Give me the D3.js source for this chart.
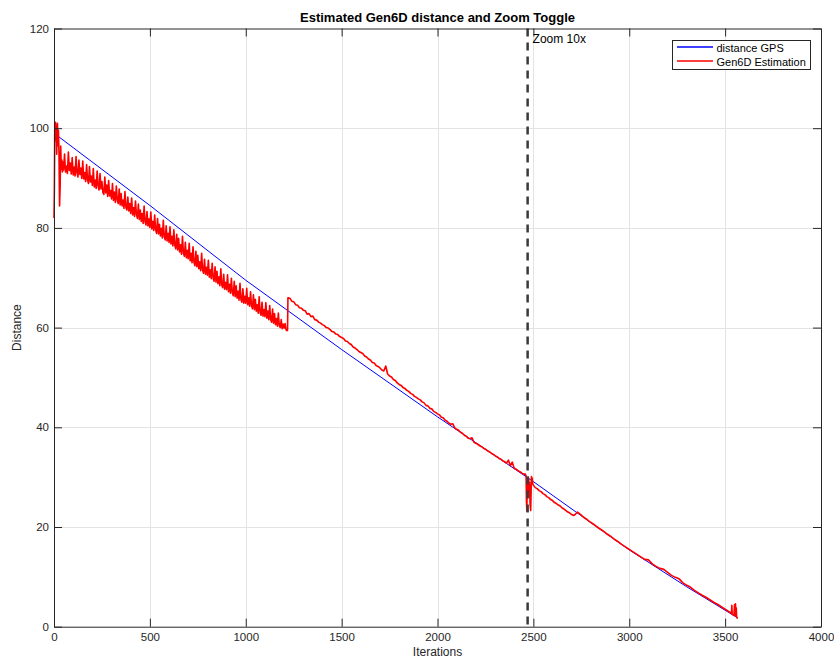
<!DOCTYPE html>
<html>
<head>
<meta charset="utf-8">
<script src="https://cdn.jsdelivr.net/npm/d3@7"></script>
<style>
  html, body { margin: 0; padding: 0; background: #fff; }
  svg { display: block; font-family: "Liberation Sans", Arial, Helvetica, sans-serif; }
</style>
</head>
<body>
<svg id="chart" width="834" height="659"></svg>
<script>
// ---------------- DATA ----------------
const titleText = "Estimated Gen6D distance and Zoom Toggle";
const xLabelText = "Iterations";
const yLabelText = "Distance";
const seriesNames = ["distance GPS", "Gen6D Estimation"];
const xTicks = [0, 500, 1000, 1500, 2000, 2500, 3000, 3500, 4000];
const yTicks = [0, 20, 40, 60, 80, 100, 120];
const zoomIteration = 2470;
const zoomLabel = "Zoom 10x";

// GPS distance [iteration, distance]
const gpsDistance = [[0, 99.0], [500, 84.5], [1000, 69.5], [1500, 55.6], [2000, 42.1],
  [2500, 29.1], [3000, 15.4], [3300, 8.0], [3564, 1.8]];

// Gen6D estimation, start (explicit [iteration, value])
const redStart = [[0, 82.0], [2, 88.0], [4, 100.5], [6, 97.5], [8, 101.2], [10, 98.6], [12, 100.6],
  [14, 94.8], [16, 99.9], [18, 101.0], [20, 96.5], [23, 99.6], [26, 95.2], [29, 84.4], [32, 88.2],
  [35, 96.4], [38, 91.8], [41, 93.6], [44, 91.2], [47, 93.2]];
// Gen6D noisy section: iterations 50..1215 every 5
const redNoisyStart = 50, redNoisyStep = 5;
const redNoisy = [
  91.6, 94.8, 91.2, 92.4, 90.9, 95.2, 91.5, 93.0, 90.8, 94.1,
  90.6, 92.2, 90.4, 94.3, 91.0, 90.2, 93.6, 90.7, 92.0, 89.9,
  93.4, 89.8, 91.1, 89.3, 92.7, 89.6, 88.9, 92.3, 89.2, 90.4,
  88.5, 91.9, 88.2, 89.6, 87.9, 91.4, 88.4, 87.6, 90.9, 87.8,
  89.3, 87.1, 86.7, 90.2, 87.0, 88.6, 86.3, 89.5, 86.4, 87.5,
  85.8, 88.9, 85.5, 87.2, 85.1, 88.4, 85.6, 84.9, 87.8, 84.6,
  86.9, 84.4, 85.6, 83.9, 87.3, 84.1, 83.6, 86.2, 83.4, 84.9,
  82.9, 86.0, 82.6, 84.1, 82.3, 85.4, 82.7, 81.9, 84.8, 81.7,
  83.6, 81.3, 82.9, 80.9, 84.4, 81.2, 80.6, 83.3, 80.4, 81.8,
  80.1, 83.2, 79.8, 81.3, 79.5, 82.6, 79.6, 78.9, 81.9, 78.8,
  80.7, 78.4, 79.9, 78.0, 81.5, 78.2, 77.6, 80.4, 77.4, 78.9,
  77.1, 80.2, 76.8, 78.3, 76.4, 79.6, 76.5, 75.8, 78.7, 75.6,
  77.9, 75.2, 76.6, 74.7, 78.3, 74.9, 74.3, 77.1, 74.0, 75.5,
  73.8, 76.9, 73.4, 74.9, 73.0, 76.2, 73.1, 72.4, 75.3, 72.2,
  74.5, 71.8, 73.2, 71.4, 74.9, 71.5, 70.9, 73.7, 70.7, 72.1,
  70.5, 73.5, 70.1, 71.6, 69.8, 72.9, 69.9, 69.3, 72.2, 69.1,
  71.3, 68.8, 70.2, 68.4, 71.8, 68.5, 68.0, 70.7, 67.7, 69.1,
  67.6, 70.6, 67.2, 68.7, 66.9, 69.9, 67.0, 66.4, 69.3, 66.2,
  68.4, 65.9, 67.3, 65.5, 68.9, 65.6, 65.1, 67.8, 64.9, 66.3,
  64.9, 67.9, 64.6, 66.0, 64.3, 67.2, 64.4, 63.8, 66.6, 63.6,
  65.7, 63.3, 64.6, 62.9, 66.2, 63.0, 62.5, 65.1, 62.3, 63.6,
  62.2, 65.0, 61.9, 63.3, 61.6, 64.4, 61.6, 61.1, 63.7, 60.9,
  62.8, 60.6, 61.8, 60.3, 62.9, 60.4, 60.0, 61.6, 59.8, 60.7,
  59.9, 60.8, 59.6, 59.4];
const redJump = [[1218, 59.5]];
// Gen6D after the jump: iterations 1220..2450 every 10
const redSmoothStart = 1220, redSmoothStep = 10;
const redSmooth = [
  66.0, 65.9, 65.3, 65.2, 64.6, 64.5, 64.0, 63.9,
  63.5, 63.4, 62.7, 62.8, 62.2, 62.3, 61.6, 61.5, 61.1, 60.9,
  60.6, 60.4, 60.0, 59.9, 59.6, 59.2, 59.1, 58.7, 58.6, 58.2,
  58.0, 57.8, 57.3, 57.2, 56.8, 56.6, 56.1, 55.9, 55.6, 55.2,
  55.0, 54.8, 54.3, 54.1, 53.7, 53.5, 53.0, 52.9, 52.4, 52.2,
  51.9, 51.5, 51.3, 52.3, 50.7, 50.3, 50.1, 49.6, 49.4, 48.9,
  48.6, 48.4, 48.0, 47.8, 47.4, 47.2, 46.8, 46.6, 46.2, 46.0,
  45.7, 45.5, 45.1, 44.9, 44.4, 44.3, 43.8, 43.7, 43.2, 43.0,
  42.7, 42.5, 42.0, 41.9, 41.4, 41.2, 40.8, 40.6, 40.7, 39.9,
  39.6, 39.4, 39.0, 38.8, 38.4, 38.2, 37.8, 37.7, 37.9, 37.0,
  36.8, 36.6, 36.3, 36.1, 35.8, 35.6, 35.3, 35.1, 34.8, 34.6,
  34.3, 34.1, 33.8, 33.6, 33.3, 33.1, 32.8, 33.4, 32.3, 33.0,
  31.8, 31.6, 31.3, 31.1, 30.8, 30.6];
// Gen6D around the zoom toggle (explicit [iteration, value])
const redZoom = [[2458, 30.6], [2462, 30.2], [2464, 25.0], [2466, 23.2], [2468, 28.5], [2470, 27.0],
  [2473, 30.0], [2476, 29.4], [2478, 26.0], [2480, 29.0], [2483, 24.5], [2486, 23.3], [2488, 26.8],
  [2490, 30.1], [2492, 29.0], [2494, 29.8], [2497, 28.6]];
// Gen6D after zoom: iterations 2500..2760 every 10
const redAfterStart = 2500, redAfterStep = 10;
const redAfter = [28.4, 27.9, 27.7, 27.3, 27.1, 26.7, 26.5, 26.1, 25.9, 25.5,
  25.3, 24.9, 24.7, 24.4, 24.2, 23.8, 23.6, 23.3, 23.0, 22.8,
  22.5, 22.3, 22.6, 23.0, 22.7, 22.4, 22.0];
// Gen6D tail: iterations 2780..3520 every 20
const redTailStart = 2780, redTailStep = 20;
const redTail = [21.5, 20.9, 20.4, 19.8, 19.3, 18.7, 18.2, 17.6, 17.1, 16.5, 16.0,
  15.5, 15.0, 14.5, 14.0, 13.5, 13.4, 12.6, 12.1, 11.7, 11.5, 10.9, 10.3, 9.9, 9.6,
  8.8, 8.3, 7.9, 7.3, 6.8, 6.3, 5.9, 5.4, 4.9, 4.5, 4.0, 3.5, 3.0];
// Gen6D end (explicit [iteration, value])
const redEnd = [[3530, 2.8], [3533, 2.6], [3535, 4.3], [3537, 2.5], [3540, 2.4], [3543, 2.4],
  [3546, 2.3], [3549, 4.4], [3551, 2.2], [3554, 4.6], [3556, 2.1], [3558, 3.8], [3560, 2.0],
  [3562, 1.8], [3565, 1.6]];

// ---------------- BUILD ----------------
const seq = (start, step, vals) => vals.map((v, i) => [start + i * step, v]);
const gen6d = [].concat(redStart, seq(redNoisyStart, redNoisyStep, redNoisy), redJump,
  seq(redSmoothStart, redSmoothStep, redSmooth), redZoom,
  seq(redAfterStart, redAfterStep, redAfter), seq(redTailStart, redTailStep, redTail), redEnd);

const svg = d3.select("#chart");
const L = 54, R = 821, T = 28.5, B = 626.7;
const x = d3.scaleLinear().domain([0, 4000]).range([L, R]);
const y = d3.scaleLinear().domain([0, 120]).range([B, T]);
const axisColor = "#262626";

// grid
const g = svg.append("g");
g.selectAll(".vg").data(xTicks.slice(1, -1)).join("line")
  .attr("x1", d => Math.round(x(d)) + 0.5).attr("x2", d => Math.round(x(d)) + 0.5)
  .attr("y1", T).attr("y2", B).attr("stroke", "#e3e3e3").attr("stroke-width", 1);
g.selectAll(".hg").data(yTicks.slice(1, -1)).join("line")
  .attr("y1", d => Math.round(y(d)) + 0.5).attr("y2", d => Math.round(y(d)) + 0.5)
  .attr("x1", L).attr("x2", R).attr("stroke", "#e3e3e3").attr("stroke-width", 1);

// lines
const line = d3.line().x(d => x(d[0])).y(d => y(d[1]));
svg.append("path").datum(gpsDistance).attr("d", line)
  .attr("fill", "none").attr("stroke", "#0000ff").attr("stroke-width", 1);
svg.append("path").datum(gen6d).attr("d", line)
  .attr("fill", "none").attr("stroke", "#ff0000").attr("stroke-width", 1.6)
  .attr("stroke-linejoin", "round");

// zoom toggle line
svg.append("line")
  .attr("x1", x(zoomIteration)).attr("x2", x(zoomIteration))
  .attr("y1", T).attr("y2", B)
  .attr("stroke", "#3a3a3a").attr("stroke-width", 2.5).attr("stroke-dasharray", "8,6");
svg.append("text").attr("x", x(zoomIteration) + 5).attr("y", 43)
  .attr("font-size", 12).attr("fill", "#000").text(zoomLabel);

// axes (bottom/left with labels, top/right ticks only)
const axB = d3.axisBottom(x).tickValues(xTicks).tickSizeInner(-8).tickSizeOuter(0).tickPadding(6.5).tickFormat(d3.format("d"));
const axL = d3.axisLeft(y).tickValues(yTicks).tickSizeInner(-8).tickSizeOuter(0).tickPadding(5).tickFormat(d3.format("d"));
const axT = d3.axisTop(x).tickValues(xTicks).tickSizeInner(-8).tickSizeOuter(0).tickFormat("");
const axR = d3.axisRight(y).tickValues(yTicks).tickSizeInner(-8).tickSizeOuter(0).tickFormat("");

function styleAxis(sel) {
  sel.selectAll("path").attr("stroke", axisColor).attr("stroke-width", 1);
  sel.selectAll("line").attr("stroke", axisColor).attr("stroke-width", 1);
  sel.selectAll("text").attr("fill", axisColor).attr("font-size", 11.5)
    .attr("font-family", "'Liberation Sans', Arial, sans-serif");
}
svg.append("g").attr("transform", `translate(0,${B})`).call(axB).call(styleAxis);
svg.append("g").attr("transform", `translate(${L},0)`).call(axL).call(styleAxis);
svg.append("g").attr("transform", `translate(0,${T})`).call(axT).call(styleAxis);
svg.append("g").attr("transform", `translate(${R},0)`).call(axR).call(styleAxis);

// title and labels
svg.append("text").attr("x", (L + R) / 2).attr("y", 22).attr("text-anchor", "middle")
  .attr("font-size", 13).attr("font-weight", "bold").attr("fill", "#000").text(titleText);
svg.append("text").attr("x", (L + R) / 2).attr("y", 655.5).attr("text-anchor", "middle")
  .attr("font-size", 12).attr("fill", axisColor).text(xLabelText);
svg.append("text").attr("transform", `translate(21,${(T + B) / 2}) rotate(-90)`)
  .attr("text-anchor", "middle").attr("font-size", 12).attr("fill", axisColor).text(yLabelText);

// legend
const lg = svg.append("g");
lg.append("rect").attr("x", 672.5).attr("y", 40.5).attr("width", 138).attr("height", 29)
  .attr("fill", "#fff").attr("stroke", axisColor).attr("stroke-width", 1);
const legColors = ["#0000ff", "#ff0000"];
seriesNames.forEach((n, i) => {
  const yy = 47 + i * 14;
  lg.append("line").attr("x1", 677).attr("x2", 713).attr("y1", yy).attr("y2", yy)
    .attr("stroke", legColors[i]).attr("stroke-width", 1.6);
  lg.append("text").attr("x", 716.5).attr("y", yy + 4.5).attr("font-size", 11)
    .attr("fill", "#000").text(n);
});
</script>
</body>
</html>
